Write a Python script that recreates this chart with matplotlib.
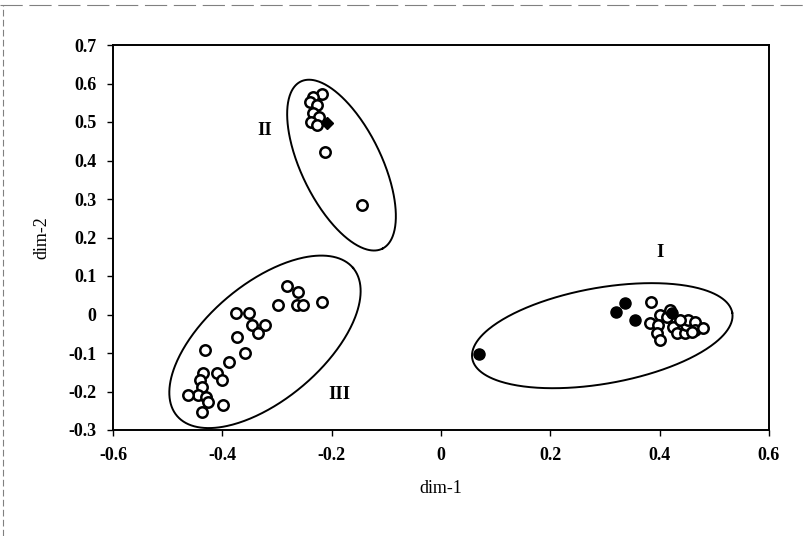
import matplotlib
matplotlib.use('Agg')
import matplotlib.pyplot as plt
import numpy as np

# group I (open circles) and the filled dots that sit with it
g1_x = [0.385, 0.401, 0.382, 0.397, 0.395, 0.401, 0.425, 0.431, 0.446, 0.449,
        0.452, 0.465, 0.465, 0.480, 0.413, 0.419, 0.437, 0.459]
g1_y = [0.033, -0.001, -0.023, -0.027, -0.049, -0.066, -0.032, -0.049, -0.049, -0.027,
        -0.014, -0.019, -0.040, -0.036, -0.006, 0.012, -0.014, -0.045]
filled_x = [0.070, 0.320, 0.336, 0.355, 0.423]
filled_y = [-0.103, 0.007, 0.030, -0.014, 0.004]

# group II
g2_x = [-0.218, -0.234, -0.240, -0.227, -0.234, -0.224, -0.237, -0.227, -0.212, -0.145]
g2_y = [0.573, 0.566, 0.553, 0.544, 0.523, 0.514, 0.501, 0.492, 0.423, 0.284]
diamond_x = [-0.209]
diamond_y = [0.497]

# group III
g3_x = [-0.282, -0.261, -0.298, -0.264, -0.252, -0.218, -0.375, -0.352, -0.346, -0.322,
        -0.334, -0.374, -0.359, -0.387, -0.432, -0.435, -0.410, -0.401, -0.441, -0.438,
        -0.444, -0.462, -0.429, -0.426, -0.438, -0.398]
g3_y = [0.074, 0.059, 0.025, 0.025, 0.025, 0.033, 0.003, 0.003, -0.027, -0.027,
        -0.047, -0.059, -0.101, -0.124, -0.092, -0.153, -0.153, -0.170, -0.170, -0.188,
        -0.209, -0.209, -0.213, -0.226, -0.252, -0.235]

# cluster labels and their positions
cluster_names = ['I', 'II', 'III']
cluster_lx = [0.40, -0.322, -0.185]
cluster_ly = [0.162, 0.479, -0.209]

# ellipses: centre (data), semi axes (px), angle (deg, on screen)
ell_cx = [0.295, -0.182, -0.322]
ell_cy = [-0.055, 0.388, -0.071]
ell_a = [132, 93, 115]
ell_b = [48, 40, 58]
ell_ang = [10, -64, 40]

xticks = [-0.6, -0.4, -0.2, 0, 0.2, 0.4, 0.6]
yticks = [-0.3, -0.2, -0.1, 0, 0.1, 0.2, 0.3, 0.4, 0.5, 0.6, 0.7]

plt.rcParams['font.family'] = 'serif'
plt.rcParams['font.serif'] = ['Liberation Serif', 'DejaVu Serif']
plt.rcParams['font.weight'] = 'bold'

fig = plt.figure(figsize=(8.07, 5.36), dpi=100)
ax = fig.add_axes([113/807, 106/536, 656/807, 385/536])
ax.set_xlim(-0.6, 0.6)
ax.set_ylim(-0.3, 0.7)

# pixels per data unit, for drawing the ellipses in screen proportions
px_x = 656 / 1.2
px_y = 385 / 1.0


def draw_ellipse(cx, cy, a, b, ang):
    t = np.linspace(0, 2*np.pi, 400)
    th = np.radians(ang)
    X = a*np.cos(th)*np.cos(t) - b*np.sin(th)*np.sin(t)
    Y = a*np.sin(th)*np.cos(t) + b*np.cos(th)*np.sin(t)
    ax.plot(cx + X/px_x, cy + Y/px_y, color='black', lw=1.4, clip_on=False, zorder=2)


for i in range(3):
    draw_ellipse(ell_cx[i], ell_cy[i], ell_a[i], ell_b[i], ell_ang[i])

mk = dict(marker='o', ms=7.5, mfc='white', mec='black', mew=1.8, ls='none', clip_on=False, zorder=3)
ax.plot(g1_x, g1_y, **mk)
ax.plot(g2_x, g2_y, **mk)
ax.plot(g3_x, g3_y, **mk)
ax.plot(filled_x, filled_y, marker='o', ms=8, color='black', ls='none', zorder=4)
ax.plot(diamond_x, diamond_y, marker='D', ms=6, color='black', ls='none', zorder=4)

for name, lx, ly in zip(cluster_names, cluster_lx, cluster_ly):
    ax.text(lx, ly, name, fontsize=13.5, ha='center', va='center')

ax.set_xticks(xticks)
ax.set_yticks(yticks)
ax.set_xticklabels(['-0.6', '-0.4', '-0.2', '0', '0.2', '0.4', '0.6'])
ax.set_yticklabels(['-0.3', '-0.2', '-0.1', '0', '0.1', '0.2', '0.3', '0.4', '0.5', '0.6', '0.7'])
ax.tick_params(direction='out', length=4, width=1, labelsize=13, pad=8)
for s in ax.spines.values():
    s.set_linewidth(1.4)

ax.set_xlabel('dim-1', fontsize=13, labelpad=12, fontweight='normal')
ax.set_ylabel('dim-2', fontsize=13, labelpad=13, fontweight='normal')

# scan edges
fig.add_artist(plt.Line2D([0.004, 0.004], [0.0, 0.99], color='gray', lw=0.8, ls=(0, (6, 3))))
fig.add_artist(plt.Line2D([0.0, 1.0], [0.99, 0.99], color='gray', lw=0.8, ls=(0, (20, 6))))

fig.savefig('out.png', dpi=100)
